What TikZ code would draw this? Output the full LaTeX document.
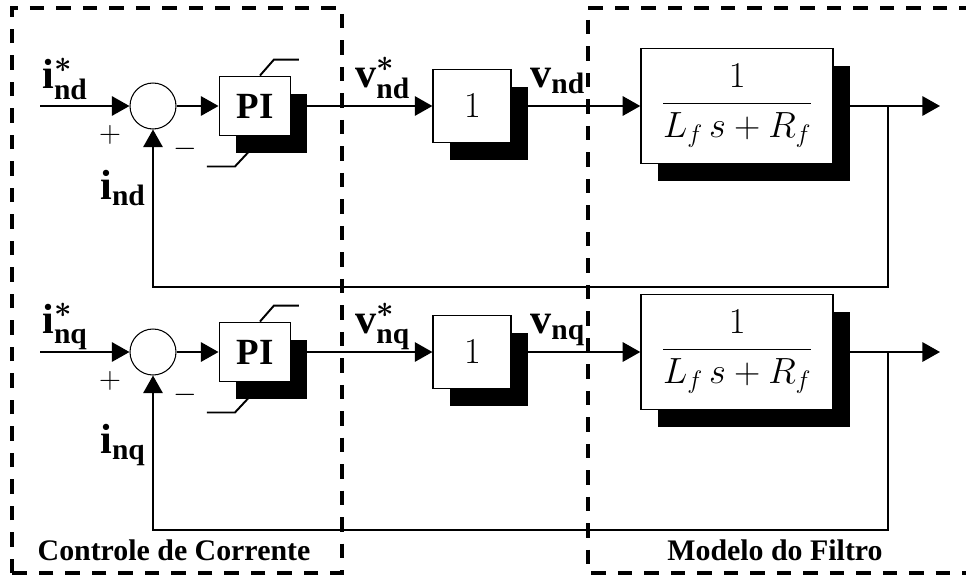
\documentclass[tikz,border=0pt]{standalone}
\usepackage{amsmath}
\usepackage{fontspec}
\setmainfont{Liberation Serif}
\usepackage{tikz}
\usetikzlibrary{arrows.meta,positioning,calc,shadows}

\begin{document}
\begin{tikzpicture}[
    x=0.02cm, y=-0.02cm,
    >={Triangle[length=10pt,width=11pt]},
    block/.style={rectangle, draw=black, line width=1.1pt, fill=white, inner sep=2pt,
        drop shadow={shadow xshift=0.33cm, shadow yshift=-0.35cm, fill=black, opacity=1}},
    pibox/.style={block, minimum width=1.42cm, minimum height=1.18cm, font=\fontsize{21}{25}\selectfont\bfseries},
    gainbox/.style={block, minimum width=1.56cm, minimum height=1.46cm, font=\fontsize{22}{26}\selectfont},
    filterbox/.style={block, minimum width=3.84cm, minimum height=2.3cm, font=\fontsize{20}{24}\selectfont},
    sumnode/.style={circle, draw=black, line width=0.6pt, minimum size=0.92cm, inner sep=0pt},
    sig/.style={font=\fontsize{24}{28}\selectfont, inner sep=0pt, anchor=base west},
    sign/.style={font=\fontsize{17}{20}\selectfont, inner sep=0pt},
    region/.style={line width=2pt, dash pattern=on 0.29cm off 0.24cm},
    regionlabel/.style={font=\fontsize{17}{20}\selectfont\bfseries, anchor=base},
    arrow/.style={->, line width=1.1pt},
    line/.style={line width=1.1pt}
]
\useasboundingbox (0,0) rectangle (966,579);
\clip (0,0) rectangle (966,579);

% Regions
\draw[region] (12,573) -- (12,8) -- (342,8) -- (342,573) -- cycle;
\draw[region] (1000,8) -- (588,8) -- (588,573) -- (1000,573);
\node[regionlabel] (ctrllabel) at (174,560) {Controle de Corrente};
\node[regionlabel] (filtlabel) at (775,560) {Modelo do Filtro};

% d axis
\node[sumnode] (sumd) at (153,106) {};
\node[pibox, right=0.84cm of sumd] (pid) {PI};
\node[gainbox, right=2.82cm of pid] (gaind) {$1$};
\node[filterbox, right=2.56cm of gaind] (filtd) {$\dfrac{1}{L_{f}\,s+R_{f}}$};
\coordinate (ind) at (40,106);
\coordinate (brd) at (888,106);
\coordinate (outd) at (940,106);
\coordinate (fbd) at (888,287);

\node[sig] (irefd) at (42,88) {$\mathbf{i}^{\boldsymbol{*}}_{\mathbf{nd}}$};
\node[sig] (imeasd) at (100,199) {$\mathbf{i}_{\mathbf{nd}}$};
\node[sig] (vrefd) at (355,87) {$\mathbf{v}^{\boldsymbol{*}}_{\mathbf{nd}}$};
\node[sig] (voutd) at (530,87) {$\mathbf{v}_{\mathbf{nd}}$};
\node[sign] (plusd) at (110,135) {$+$};
\node[sign] (minusd) at (185,149) {$-$};

% q axis
\node[sumnode] (sumq) at (153,352) {};
\node[pibox, right=0.84cm of sumq] (piq) {PI};
\node[gainbox, right=2.82cm of piq] (gainq) {$1$};
\node[filterbox, right=2.56cm of gainq] (filtq) {$\dfrac{1}{L_{f}\,s+R_{f}}$};
\coordinate (inq) at (40,352);
\coordinate (brq) at (888,352);
\coordinate (outq) at (940,352);
\coordinate (fbq) at (888,530);

\node[sig] (irefq) at (42,333) {$\mathbf{i}^{\boldsymbol{*}}_{\mathbf{nq}}$};
\node[sig] (imeasq) at (100,453) {$\mathbf{i}_{\mathbf{nq}}$};
\node[sig] (vrefq) at (355,333) {$\mathbf{v}^{\boldsymbol{*}}_{\mathbf{nq}}$};
\node[sig] (voutq) at (530,333) {$\mathbf{v}_{\mathbf{nq}}$};
\node[sign] (plusq) at (110,381) {$+$};
\node[sign] (minusq) at (185,395) {$-$};

% Saturation marks
\draw[line] ($(pid.north)+(5,0)$) -- ++(14,-16) -- ++(25,0);
\draw[line] ($(pid.south)+(-48,30)$) -- ++(28,0) -- ++(14,-15);
\draw[line] ($(piq.north)+(5,0)$) -- ++(14,-16) -- ++(25,0);
\draw[line] ($(piq.south)+(-48,30)$) -- ++(28,0) -- ++(14,-15);

% Connections
\draw[arrow] (ind) -- (sumd);
\draw[arrow] (sumd) -- (pid);
\draw[arrow] (pid) -- (gaind);
\draw[arrow] (gaind) -- (filtd);
\draw[arrow] (filtd) -- (outd);
\draw[arrow] (brd) -- (fbd) -| (sumd);

\draw[arrow] (inq) -- (sumq);
\draw[arrow] (sumq) -- (piq);
\draw[arrow] (piq) -- (gainq);
\draw[arrow] (gainq) -- (filtq);
\draw[arrow] (filtq) -- (outq);
\draw[arrow] (brq) -- (fbq) -| (sumq);

\end{tikzpicture}
\end{document}
